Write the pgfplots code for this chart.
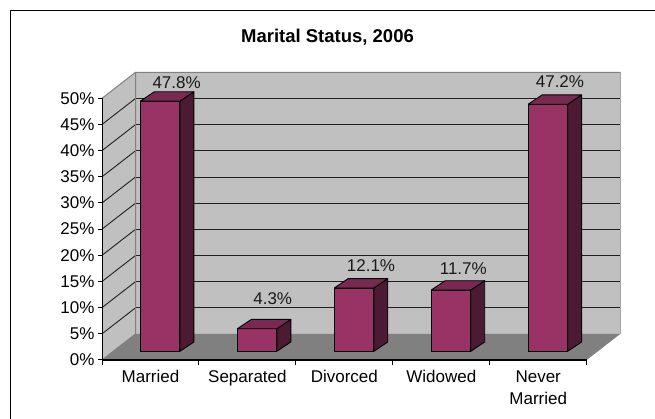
\documentclass[border=0pt]{standalone}
\usepackage{pgfplots}
\pgfplotsset{compat=1.18}
\usepackage{fontspec}
\setmainfont{Liberation Sans}
\definecolor{wall}{HTML}{C0C0C0}
\definecolor{floorc}{HTML}{808080}
\definecolor{barf}{HTML}{993366}
\definecolor{bart}{HTML}{7A2952}
\definecolor{bars}{HTML}{4D1A33}
\definecolor{gridc}{HTML}{202020}
\tikzset{face/.style={draw=black,line width=0.9pt,line join=round,yshift=8.7pt}}
\begin{document}
\begin{tikzpicture}[x=1pt,y=1pt]
\useasboundingbox (0,0) rectangle (655,419);
\draw[black,line width=1.2pt] (10.7,0) -- (10.7,408.3) -- (655,408.3);
\node[font=\bfseries\fontsize{18.5}{22}\selectfont] at (327.5,382) {Marital Status, 2006};
\begin{axis}[
  at={(102pt,59pt)}, anchor=origin,
  scale only axis, width=484.7pt, height=261.7pt,
  xmin=0, xmax=5, ymin=0, ymax=50, clip=false,
  axis on top,
  axis x line=bottom, axis y line=left,
  axis line style={-, line width=1pt, color=black},
  x axis line style={line width=1.4pt},
  /pgf/number format/assume math mode=true,
  tick align=outside,
  ytick={0,5,...,50},
  yticklabel={\pgfmathprintnumber{\tick}\%},
  xtick={0.5,1.5,2.5,3.5,4.5},
  xticklabels={Married,Separated,Divorced,Widowed,{Never\\Married}},
  minor xtick={0,1,2,3,4,5},
  major tick length=4pt,
  minor tick length=5pt,
  xtick style={draw=none},
  minor x tick style={draw=black,line width=1pt},
  ytick style={draw=black,line width=1pt},
  tick label style={font=\fontsize{17}{22}\selectfont,text=black},
  xticklabel style={align=center,anchor=north,yshift=-3pt},
  yticklabel style={anchor=east,xshift=0pt},
]
% walls and floor
\addplot[fill=wall,draw=none] coordinates {(0,0)(0.3456,4.97)(0.3456,54.97)(0,50)(0,0)};
\addplot[fill=wall,draw=none] coordinates {(0.3456,4.97)(5.3456,4.97)(5.3456,54.97)(0.3456,54.97)(0.3456,4.97)};
\addplot[fill=floorc,draw=none] coordinates {(0,0)(5,0)(5.3456,4.97)(0.3456,4.97)(0,0)};
% back wall grid
\foreach \g in {9.97,14.97,19.97,24.97,29.97,34.97,39.97,44.97,49.97}{
  \edef\tmp{\noexpand\addplot[gridc,line width=0.9pt] coordinates {(0.3456,\g)(5.3456,\g)};}\tmp
}
% side wall grid
\foreach \g/\h in {5/9.97,10/14.97,15/19.97,20/24.97,25/29.97,30/34.97,35/39.97,40/44.97,45/49.97}{
  \edef\tmp{\noexpand\addplot[gridc,line width=0.9pt] coordinates {(0,\g)(0.3456,\h)};}\tmp
}
% wall edges
\addplot[floorc,line width=1pt] coordinates {(0,0)(0.3456,4.97)(0.3456,54.97)(5.3456,54.97)};
\addplot[floorc,line width=1pt] coordinates {(0,50)(0.3456,54.97)};
\addplot[wall!85!black,line width=1pt] coordinates {(5.3456,54.97)(5.3456,4.97)};
% bars: front faces
\addplot[ybar,bar width=39.5pt,bar shift=0pt,fill=barf,face]
 coordinates {(0.6,47.8)(1.6,4.3)(2.6,12.1)(3.6,11.7)(4.6,47.2)};
% side faces
\addplot[fill=bars,face] coordinates {(0.804,0)(0.948,1.785)(0.948,49.585)(0.804,47.8)(0.804,0)};
\addplot[fill=bars,face] coordinates {(1.804,0)(1.948,1.785)(1.948,6.085)(1.804,4.3)(1.804,0)};
\addplot[fill=bars,face] coordinates {(2.804,0)(2.948,1.785)(2.948,13.885)(2.804,12.1)(2.804,0)};
\addplot[fill=bars,face] coordinates {(3.804,0)(3.948,1.785)(3.948,13.485)(3.804,11.7)(3.804,0)};
\addplot[fill=bars,face] coordinates {(4.804,0)(4.948,1.785)(4.948,48.985)(4.804,47.2)(4.804,0)};
% top faces
\addplot[fill=bart,face] coordinates {(0.396,47.8)(0.804,47.8)(0.948,49.585)(0.540,49.585)(0.396,47.8)};
\addplot[fill=bart,face] coordinates {(1.396,4.3)(1.804,4.3)(1.948,6.085)(1.540,6.085)(1.396,4.3)};
\addplot[fill=bart,face] coordinates {(2.396,12.1)(2.804,12.1)(2.948,13.885)(2.540,13.885)(2.396,12.1)};
\addplot[fill=bart,face] coordinates {(3.396,11.7)(3.804,11.7)(3.948,13.485)(3.540,13.485)(3.396,11.7)};
\addplot[fill=bart,face] coordinates {(4.396,47.2)(4.804,47.2)(4.948,48.985)(4.540,48.985)(4.396,47.2)};
% value labels
\begin{scope}[every node/.style={font=\fontsize{17}{20}\selectfont,text=black!90}]
\node at (axis cs:0.770,53.06) {47.8\%};
\node at (axis cs:1.761,11.64) {4.3\%};
\node at (axis cs:2.775,18.0) {12.1\%};
\node at (axis cs:3.727,17.5) {11.7\%};
\node at (axis cs:4.724,53.2) {47.2\%};
\end{scope}
\end{axis}
\end{tikzpicture}
\end{document}
